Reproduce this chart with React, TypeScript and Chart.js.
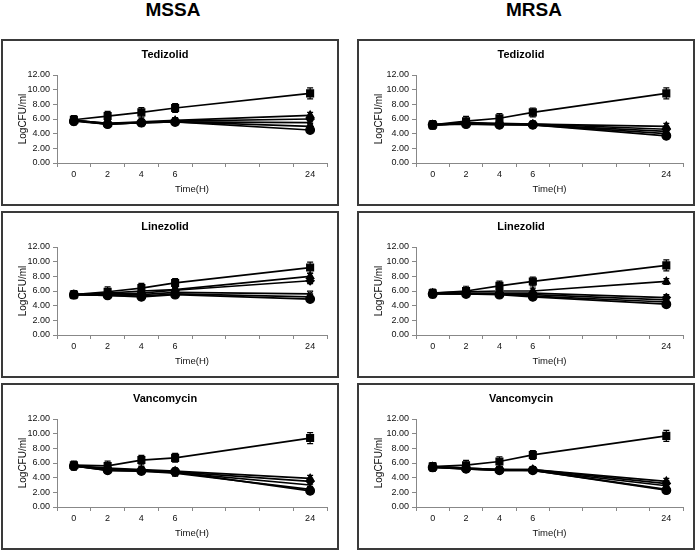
import React, { useEffect, useRef } from 'react';
import { Chart, registerables } from 'chart.js';

Chart.register(...registerables);

const FONT = '"Liberation Sans", Arial, sans-serif';

// x axis: measured hours and the category slots of the axis
const hourLabels = ['0', '2', '4', '6', '24'];
const axisLabels = ['0', '2', '4', '6', '', '', '', '24'];

// error bar sizes (± LogCFU/ml) at 0, 2, 4, 6, 24 h
const controlErr = [0.55, 0.65, 0.65, 0.6, 0.75];
const drugErr = [0.5, 0.4, 0.4, 0.4, 0.4];

// MSSA - Tedizolid
const mssaTedControl = [5.9, 6.4, 6.9, 7.5, 9.5];
const mssaTedS1 = [5.8, 5.4, 5.6, 5.8, 6.5];
const mssaTedS2 = [5.8, 5.4, 5.5, 5.7, 6.0];
const mssaTedS3 = [5.8, 5.3, 5.5, 5.6, 5.5];
const mssaTedS4 = [5.8, 5.3, 5.5, 5.6, 5.0];
const mssaTedS5 = [5.7, 5.3, 5.5, 5.6, 4.5];

// MRSA - Tedizolid
const mrsaTedControl = [5.2, 5.7, 6.1, 6.9, 9.5];
const mrsaTedS1 = [5.2, 5.5, 5.4, 5.3, 5.0];
const mrsaTedS2 = [5.2, 5.4, 5.3, 5.3, 4.6];
const mrsaTedS3 = [5.2, 5.4, 5.3, 5.2, 4.3];
const mrsaTedS4 = [5.2, 5.4, 5.3, 5.2, 4.0];
const mrsaTedS5 = [5.2, 5.3, 5.2, 5.2, 3.7];

// MSSA - Linezolid
const mssaLinControl = [5.5, 5.9, 6.4, 7.1, 9.2];
const mssaLinS1 = [5.5, 5.7, 6.0, 6.2, 8.0];
const mssaLinS2 = [5.5, 5.6, 5.7, 6.1, 7.4];
const mssaLinS3 = [5.5, 5.5, 5.5, 5.8, 5.6];
const mssaLinS4 = [5.5, 5.4, 5.3, 5.6, 5.2];
const mssaLinS5 = [5.5, 5.4, 5.2, 5.5, 4.9];

// MRSA - Linezolid
const mrsaLinControl = [5.7, 6.0, 6.7, 7.3, 9.5];
const mrsaLinS1 = [5.7, 5.9, 6.0, 6.0, 7.3];
const mrsaLinS2 = [5.7, 5.7, 5.7, 5.7, 5.1];
const mrsaLinS3 = [5.7, 5.6, 5.6, 5.5, 4.8];
const mrsaLinS4 = [5.6, 5.6, 5.6, 5.3, 4.5];
const mrsaLinS5 = [5.6, 5.6, 5.5, 5.2, 4.2];

// MSSA - Vancomycin
const mssaVanControl = [5.7, 5.6, 6.4, 6.7, 9.4];
const mssaVanS1 = [5.6, 5.3, 5.1, 4.9, 3.9];
const mssaVanS2 = [5.6, 5.2, 5.0, 4.8, 3.5];
const mssaVanS3 = [5.6, 5.1, 5.0, 4.7, 3.0];
const mssaVanS4 = [5.6, 5.0, 4.9, 4.6, 2.4];
const mssaVanS5 = [5.6, 5.0, 4.9, 4.8, 2.2];

// MRSA - Vancomycin
const mrsaVanControl = [5.5, 5.7, 6.2, 7.1, 9.7];
const mrsaVanS1 = [5.5, 5.3, 5.1, 5.1, 3.5];
const mrsaVanS2 = [5.5, 5.3, 5.1, 5.1, 3.2];
const mrsaVanS3 = [5.5, 5.2, 5.1, 5.0, 2.9];
const mrsaVanS4 = [5.4, 5.2, 5.0, 5.0, 2.4];
const mrsaVanS5 = [5.4, 5.2, 5.0, 5.0, 2.3];

const styles = ['rect', 'triangle', 'rectRot', 'crossRot', 'star', 'circle'];
const radii = [4.8, 4.2, 4, 3.8, 3.8, 4.3];

function toAxis(values: number[]) {
  return axisLabels.map((l) => {
    if (l === '') return null;
    return values[hourLabels.indexOf(l)];
  });
}

const errorBarPlugin = {
  id: 'errorBars',
  afterDatasetsDraw(chart: any) {
    const { ctx } = chart;
    const x = chart.scales.x;
    const y = chart.scales.y;
    ctx.save();
    ctx.strokeStyle = '#000';
    ctx.lineWidth = 1.2;
    chart.data.datasets.forEach((ds: any) => {
      ds.data.forEach((v: number | null, i: number) => {
        const e = ds.errors[i];
        if (v == null || e == null) return;
        const px = x.getPixelForValue(i);
        const top = y.getPixelForValue(v + e);
        const bot = y.getPixelForValue(v - e);
        ctx.beginPath();
        ctx.moveTo(px, top);
        ctx.lineTo(px, bot);
        ctx.moveTo(px - 3, top);
        ctx.lineTo(px + 3, top);
        ctx.moveTo(px - 3, bot);
        ctx.lineTo(px + 3, bot);
        ctx.stroke();
      });
    });
    ctx.restore();
  },
};

type PanelProps = {
  title: string;
  series: number[][];
  left: number;
  top: number;
  width: number;
  height: number;
  yWidth: number;
};

function Panel({ title, series, left, top, width, height, yWidth }: PanelProps) {
  const ref = useRef<HTMLCanvasElement | null>(null);
  const cw = width - 4;
  const ch = height - 4;

  useEffect(() => {
    if (!ref.current) return;
    const tickFont = { family: FONT, size: 9 };
    const chart = new Chart(ref.current, {
      type: 'line',
      data: {
        labels: axisLabels,
        datasets: series.map((vals, k) => ({
          data: toAxis(vals),
          errors: toAxis(k === 0 ? controlErr : drugErr),
          borderColor: '#000',
          backgroundColor: '#000',
          pointBackgroundColor: '#000',
          pointBorderColor: '#000',
          pointStyle: styles[k],
          pointRadius: radii[k],
          pointBorderWidth: 1.3,
          borderWidth: 1.7,
          spanGaps: true,
          tension: 0,
        })) as any,
      },
      options: {
        responsive: false,
        animation: false,
        events: [],
        layout: { padding: { left: 0, right: 10, top: 0, bottom: 0 } },
        plugins: {
          legend: { display: false },
          tooltip: { enabled: false },
          title: {
            display: true,
            text: title,
            color: '#000',
            font: { family: FONT, size: 11, weight: 'bold' },
            padding: { top: 7.4, bottom: 13.4 },
          },
        },
        scales: {
          x: {
            type: 'category',
            offset: true,
            grid: {
              offset: true,
              drawOnChartArea: false,
              drawTicks: true,
              tickLength: 4,
              color: '#888',
            },
            border: { display: true, color: '#888', width: 1 },
            ticks: {
              font: tickFont,
              color: '#111',
              padding: 2,
              maxRotation: 0,
              autoSkip: false,
            },
            title: {
              display: true,
              text: 'Time(H)',
              color: '#111',
              font: { family: FONT, size: 9.5 },
              padding: { top: 0, bottom: 9 },
            },
            afterFit: (s: any) => {
              s.height = 41;
            },
          },
          y: {
            min: 0,
            max: 12,
            grid: {
              drawOnChartArea: false,
              drawTicks: true,
              tickLength: 4,
              color: '#888',
            },
            border: { display: true, color: '#888', width: 1 },
            ticks: {
              stepSize: 2,
              font: tickFont,
              color: '#111',
              padding: 3,
              callback: (v: any) => Number(v).toFixed(2),
            },
            title: {
              display: true,
              text: 'LogCFU/ml',
              color: '#111',
              font: { family: FONT, size: 10 },
              padding: { top: 14, bottom: 0 },
            },
            afterFit: (s: any) => {
              s.width = yWidth;
            },
          },
        },
      } as any,
      plugins: [errorBarPlugin],
    });
    return () => chart.destroy();
  }, []);

  return (
    <div
      style={{
        position: 'absolute',
        left,
        top,
        width,
        height,
        boxSizing: 'border-box',
        border: '2px solid #3a3a3a',
        background: '#fff',
      }}
    >
      <canvas
        ref={ref}
        width={cw}
        height={ch}
        style={{ display: 'block', width: cw, height: ch }}
      />
    </div>
  );
}

const headerStyle: React.CSSProperties = {
  position: 'absolute',
  top: 0,
  width: 120,
  textAlign: 'center',
  fontFamily: FONT,
  fontWeight: 'bold',
  fontSize: 19,
  lineHeight: '19px',
  color: '#000',
};

export default function App() {
  const colL = 1;
  const colR = 357;
  const w = 338;
  const h = 167;
  const rows = [39, 211, 383];
  return (
    <div
      style={{
        position: 'fixed',
        left: 0,
        top: 0,
        width: 696,
        height: 551,
        background: '#fff',
        overflow: 'hidden',
      }}
    >
      <div style={{ ...headerStyle, left: 173 - 60 }}>MSSA</div>
      <div style={{ ...headerStyle, left: 534 - 60 }}>MRSA</div>

      <Panel title="Tedizolid" left={colL} top={rows[0]} width={w} height={h} yWidth={54}
        series={[mssaTedControl, mssaTedS1, mssaTedS2, mssaTedS3, mssaTedS4, mssaTedS5]} />
      <Panel title="Tedizolid" left={colR} top={rows[0]} width={w} height={h} yWidth={57}
        series={[mrsaTedControl, mrsaTedS1, mrsaTedS2, mrsaTedS3, mrsaTedS4, mrsaTedS5]} />

      <Panel title="Linezolid" left={colL} top={rows[1]} width={w} height={h} yWidth={54}
        series={[mssaLinControl, mssaLinS1, mssaLinS2, mssaLinS3, mssaLinS4, mssaLinS5]} />
      <Panel title="Linezolid" left={colR} top={rows[1]} width={w} height={h} yWidth={57}
        series={[mrsaLinControl, mrsaLinS1, mrsaLinS2, mrsaLinS3, mrsaLinS4, mrsaLinS5]} />

      <Panel title="Vancomycin" left={colL} top={rows[2]} width={w} height={h} yWidth={54}
        series={[mssaVanControl, mssaVanS1, mssaVanS2, mssaVanS3, mssaVanS4, mssaVanS5]} />
      <Panel title="Vancomycin" left={colR} top={rows[2]} width={w} height={h} yWidth={57}
        series={[mrsaVanControl, mrsaVanS1, mrsaVanS2, mrsaVanS3, mrsaVanS4, mrsaVanS5]} />
    </div>
  );
}
